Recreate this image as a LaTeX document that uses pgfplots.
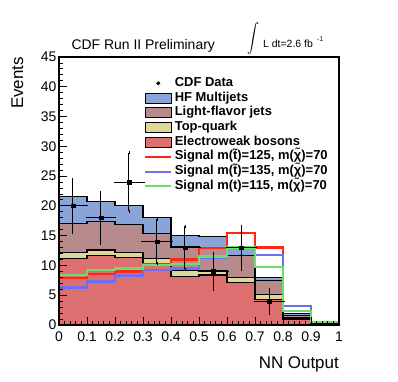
\documentclass[border=0pt]{standalone}
\usepackage{fontspec}
\setmainfont{Liberation Sans}
\usepackage{graphicx}
\usepackage{pgfplots}
\pgfplotsset{compat=1.18}

\definecolor{hfcol}{RGB}{137,165,215}
\definecolor{lfcol}{RGB}{183,138,140}
\definecolor{topcol}{RGB}{222,215,150}
\definecolor{ewcol}{RGB}{220,112,112}
\definecolor{sigred}{RGB}{255,40,20}
\definecolor{sigblue}{RGB}{110,110,240}
\definecolor{siggreen}{RGB}{110,220,110}

% stacked totals, bin left edges, last bin repeated at x=1
\pgfplotstableread{
x    hf    lf    top   ew    red   blue  green
0.0  21.6  17.1  12.1  11.1  7.9   6.3   8.4
0.1  20.7  17.4  12.6  11.7  8.55  7.3   9.2
0.2  20.1  16.8  12.2  11.3  9.0   8.3   9.5
0.3  18.1  15.3  11.2  10.4  10.3  9.2   10.1
0.4  15.0  13.2  9.1   8.1   11.0  9.5   10.3
0.5  14.8  13.0  9.2   8.4   12.9  11.2  11.5
0.6  13.0  11.7  8.0   7.2   15.4  12.9  13.0
0.7  8.0   7.4   5.1   4.3   13.0  11.8  9.7
0.8  1.9   1.6   1.2   1.0   2.3   3.2   2.3
0.9  0.2   0.15  0.1   0.1   0.5   0.5   0.5
1.0  0.2   0.15  0.1   0.1   0.5   0.5   0.5
}\mc

\pgfplotstableread{
x     y   ex    ey
0.05  20  0.05  4.47
0.15  18  0.05  4.24
0.25  24  0.05  4.90
0.35  14  0.05  3.74
0.45  13  0.05  3.61
0.55  9   0.05  3.00
0.65  13  0.05  3.61
0.75  4   0.05  2.00
}\data

\begin{document}
\begin{tikzpicture}
\path[use as bounding box] (-59bp,-57bp) rectangle (339bp,325bp);
\begin{axis}[
    name=ax,
    scale only axis,
    width=280bp, height=268bp,
    xmin=0, xmax=1, ymin=0, ymax=45,
    xtick={0,0.1,0.2,0.3,0.4,0.5,0.6,0.7,0.8,0.9,1},
    xticklabels={0,0.1,0.2,0.3,0.4,0.5,0.6,0.7,0.8,0.9,1},
    ytick={0,5,10,15,20,25,30,35,40,45},
    minor x tick num=4, minor y tick num=4,
    xtick pos=bottom, ytick pos=left,
    tick align=inside,
    major tick length=8bp, minor tick length=4bp,
    every tick/.style={black, line width=0.9bp},
    axis line style={line width=1.2bp},
    axis on top,
    /pgf/number format/assume math mode=true,
    tick label style={font=\fontsize{14}{15}\selectfont},
    xticklabel style={yshift=-3bp},
    yticklabel style={xshift=1bp},
    legend style={draw=none, fill=none, at={(rel axis cs:0.304,0.93)}, anchor=north west,
        font=\bfseries\fontsize{13}{14}\selectfont, inner sep=0pt,
        nodes={text height=9.5bp, text depth=3.2bp, inner ysep=1bp, inner xsep=2.5bp}},
    legend cell align=left,
]
\addlegendimage{legend image code/.code={\fill[black] (13bp,0bp) circle (1.8bp);}}
\addlegendentry{CDF Data}
\addlegendimage{legend image code/.code={\draw[fill=hfcol, line width=1bp] (0bp,-5bp) rectangle (26bp,5bp);}}
\addlegendentry{HF Multijets}
\addlegendimage{legend image code/.code={\draw[fill=lfcol, line width=1bp] (0bp,-5bp) rectangle (26bp,5bp);}}
\addlegendentry{Light-flavor jets}
\addlegendimage{legend image code/.code={\draw[fill=topcol, line width=1bp] (0bp,-5bp) rectangle (26bp,5bp);}}
\addlegendentry{Top-quark}
\addlegendimage{legend image code/.code={\draw[fill=ewcol, line width=1bp] (0bp,-5bp) rectangle (26bp,5bp);}}
\addlegendentry{Electroweak bosons}
\addlegendimage{legend image code/.code={\draw[sigred, line width=2bp] (0bp,0bp) -- (26bp,0bp);}}
\addlegendentry{Signal m(\~{t})=125, m(\~{χ})=70}
\addlegendimage{legend image code/.code={\draw[sigblue, line width=2bp] (0bp,0bp) -- (26bp,0bp);}}
\addlegendentry{Signal m(\~{t})=135, m(\~{χ})=70}
\addlegendimage{legend image code/.code={\draw[siggreen, line width=2bp] (0bp,0bp) -- (26bp,0bp);}}
\addlegendentry{Signal m(t)=115, m(\~{χ})=70}

\addplot[const plot mark left, fill=hfcol, draw=black, line width=1.1bp, forget plot] table[x=x, y=hf] {\mc} \closedcycle;
\addplot[const plot mark left, fill=lfcol, draw=black, line width=1.1bp, forget plot] table[x=x, y=lf] {\mc} \closedcycle;
\addplot[const plot mark left, fill=topcol, draw=black, line width=1.1bp, forget plot] table[x=x, y=top] {\mc} \closedcycle;
\addplot[const plot mark left, fill=ewcol, draw=black, line width=1.1bp, forget plot] table[x=x, y=ew] {\mc} \closedcycle;
\addplot[const plot mark left, sigred, line width=2.2bp, forget plot] table[x=x, y=red] {\mc};
\addplot[const plot mark left, sigblue, line width=2.2bp, forget plot] table[x=x, y=blue] {\mc};
\addplot[const plot mark left, siggreen, line width=2.2bp, forget plot] table[x=x, y=green] {\mc};
\addplot[only marks, mark=square*, mark size=1.8bp, black, forget plot,
    error bars/.cd, x dir=both, x explicit, y dir=both, y explicit,
    error bar style={line width=1bp, black},
    error mark options={mark size=1.5bp, line width=1bp, black}]
    table[x=x, y=y, x error=ex, y error=ey] {\data};
\end{axis}
\node[anchor=base west, font=\fontsize{14}{16}\selectfont] at ([xshift=9bp, yshift=8bp]ax.north west) {CDF Run II Preliminary};
\node[inner sep=0pt, anchor=south] at ([xshift=194bp, yshift=2bp]ax.north west) {\scalebox{1.2}[1.45]{$\displaystyle\int$}};
\node[anchor=base west, font=\fontsize{10.5}{12}\selectfont, inner sep=0pt] at ([xshift=204bp, yshift=10bp]ax.north west) {L dt=2.6 fb\hspace{4bp}\raisebox{6bp}{\fontsize{7}{8}\selectfont -1}};
\node[rotate=90, anchor=base east, font=\fontsize{17}{19}\selectfont, inner sep=0pt] at ([xshift=-36bp]ax.north west) {Events};
\node[anchor=base east, font=\fontsize{17}{19}\selectfont, inner sep=0pt] at ([yshift=-43bp]ax.south east) {NN Output};
\end{tikzpicture}
\end{document}
